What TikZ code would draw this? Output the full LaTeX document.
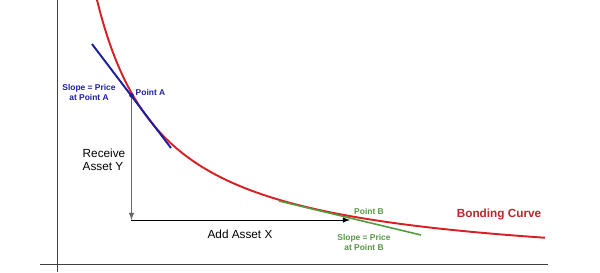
\documentclass[tikz,border=0pt]{standalone}
\usepackage{fontspec}
\setmainfont{Liberation Sans}
\usetikzlibrary{positioning, arrows}

\definecolor{curvered}{RGB}{214,32,36}
\definecolor{labelred}{RGB}{190,36,42}
\definecolor{slopeblue}{RGB}{30,30,160}
\definecolor{slopegreen}{RGB}{80,156,62}
\definecolor{textgreen}{RGB}{88,150,72}

\tikzset{
	axis line/.style={line width=1.1pt, black!75},
	small label/.style={font=\fontsize{4.8}{5.9}\selectfont\bfseries, align=center, inner sep=0pt},
	big label/.style={font=\fontsize{6.7}{7.6}\selectfont, inner sep=0pt}
}

\begin{document}
\begin{tikzpicture}[x={(0.02cm,0)}, y={(0,-0.02cm)}]
		\useasboundingbox (0,0) rectangle (600,272);
		
		\coordinate (O) at (57.5,264.5);
		\coordinate (Ytop) at (57.5,0);
		\coordinate (Ybot) at (57.5,272);
		\coordinate (Xl) at (40,264.5);
		\coordinate (Xr) at (548,264.5);
		\coordinate (A) at (131.5,95.5);
		\coordinate (C) at (131.5,220);
		\coordinate (B) at (350,220);
		\coordinate (T1) at (92,44);
		\coordinate (T2) at (171,148);
		\coordinate (G1) at (279,201);
		\coordinate (G2) at (421,235);
		
		\draw[axis line] (Ytop)--(Ybot);
		\draw[axis line] (Xl)--(Xr);
		
		\draw[line width=1.1pt, curvered, domain=97:545, samples=120] plot (\x, {273.3-183.12/((\x-30)/100)});
		\draw[line width=1.1pt, slopeblue] (T1)--(T2);
		\draw[line width=0.9pt, slopegreen] (G1)--(G2);
		
		\draw[black!60, -latex] (A)--(C);
		\draw[black, -latex] (C)--(B);
		\fill[slopeblue] (A) circle (1.3pt);
		
		\node[small label, slopeblue] (slopeA) at (89,92.5) {Slope = Price\\at Point A};
		\node[small label, slopeblue] (ptA) at (150.5,92) {Point A};
		\node[big label, align=left] (recv) at (104,159.5) {Receive\\Asset Y};
		\node[big label] (addX) at (240,234) {Add Asset X};
		\node[small label, textgreen] (ptB) at (369,211) {Point B};
		\node[small label, textgreen] (slopeB) at (364,242.5) {Slope = Price\\at Point B};
		\node[big label, labelred, font=\fontsize{6.7}{7.6}\selectfont\bfseries] (bond) at (499,214) {Bonding Curve};
		\end{tikzpicture}
\end{document}
